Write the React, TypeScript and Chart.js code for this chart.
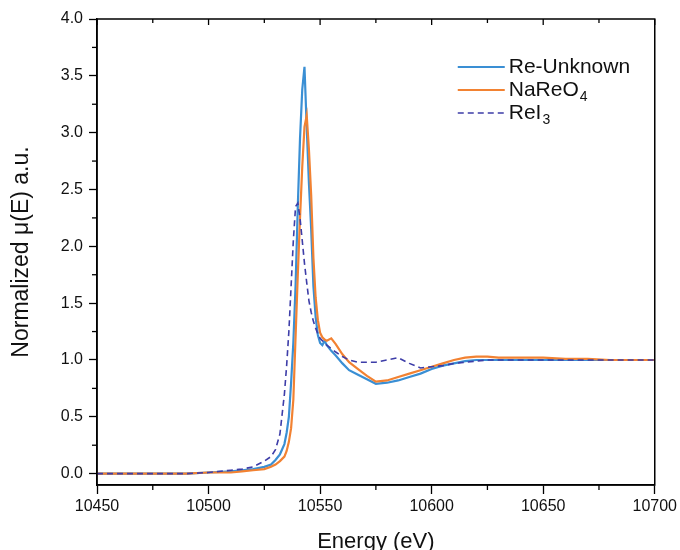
import React, { useEffect, useRef } from "react";
import { Chart, registerables } from "chart.js";

Chart.register(...registerables);

// ---------- data ----------
const energy = [
  10450, 10460, 10470, 10480, 10490,
  10500, 10510, 10515, 10520, 10525,
  10528, 10530, 10532, 10534, 10535,
  10536, 10537, 10538, 10539, 10540,
  10541, 10542, 10543, 10544, 10545,
  10546, 10547, 10548, 10549, 10550,
  10551, 10552, 10553, 10555, 10557,
  10560, 10563, 10567, 10571, 10575,
  10580, 10585, 10590, 10595, 10600,
  10605, 10610, 10615, 10620, 10625,
  10630, 10640, 10650, 10660, 10670,
  10680, 10690, 10700,
];

const reUnknown = [
  0.0, 0.0, 0.0, 0.0, 0.0,
  0.01, 0.02, 0.03, 0.04, 0.06,
  0.08, 0.12, 0.17, 0.26, 0.36,
  0.5, 0.8, 1.15, 1.65, 2.35,
  2.95, 3.38, 3.58, 3.05, 2.55,
  2.15, 1.65, 1.38, 1.22, 1.15,
  1.13, 1.17, 1.13, 1.08, 1.04,
  0.97, 0.91, 0.87, 0.83, 0.79,
  0.8, 0.82, 0.85, 0.88, 0.92,
  0.95, 0.97, 0.99, 1.0, 1.0,
  1.0, 1.0, 1.0, 1.0, 1.0,
  1.0, 1.0, 1.0,
];

const naReO4 = [
  0.0, 0.0, 0.0, 0.0, 0.0,
  0.01, 0.01, 0.02, 0.03, 0.04,
  0.06, 0.08, 0.11, 0.15, 0.2,
  0.28, 0.4, 0.65, 1.2, 1.75,
  2.25, 2.7, 3.05, 3.15, 2.85,
  2.45, 1.9, 1.55, 1.35, 1.24,
  1.2, 1.18, 1.17, 1.19, 1.14,
  1.05, 0.98, 0.92, 0.86, 0.81,
  0.82, 0.85, 0.88, 0.91, 0.94,
  0.97, 1.0, 1.02, 1.03, 1.03,
  1.02, 1.02, 1.02, 1.01, 1.01,
  1.0, 1.0, 1.0,
];

const reI3 = [
  0.0, 0.0, 0.0, 0.0, 0.0,
  0.01, 0.03, 0.04, 0.06, 0.11,
  0.15, 0.21, 0.35, 0.7, 0.95,
  1.25, 1.65, 2.05, 2.35, 2.38,
  2.25, 2.05, 1.85, 1.68, 1.52,
  1.42, 1.34, 1.28, 1.23, 1.19,
  1.17, 1.15, 1.13, 1.1, 1.07,
  1.03, 1.0, 0.98, 0.98, 0.98,
  1.0, 1.02, 0.97, 0.93, 0.94,
  0.95, 0.97, 0.98, 0.99, 1.0,
  1.0, 1.0, 1.0, 1.0, 1.0,
  1.0, 1.0, 1.0,
];

const seriesNames = ["Re-Unknown", "NaReO4", "ReI3"];
// legend text: main part + subscript part
const legendMain = ["Re-Unknown", "NaReO", "ReI"];
const legendSub = ["", "4", "3"];

const xTitle = "Energy (eV)";
const yTitle = "Normalized μ(E) a.u.";

const FONT = "'Liberation Sans', Arial, sans-serif";
const COLORS = ["#3A8FD4", "#F28232", "#3D3DA8"];

const framePlugin = {
  id: "frameAndLegend",
  afterDraw(chart: any) {
    const { ctx, chartArea: a, scales } = chart;
    const x = scales.x;
    const y = scales.y;
    const line = (x1: number, y1: number, x2: number, y2: number) => {
      ctx.beginPath();
      ctx.moveTo(x1, y1);
      ctx.lineTo(x2, y2);
      ctx.stroke();
    };
    ctx.save();
    ctx.strokeStyle = "#000";
    ctx.lineWidth = 1.5;
    ctx.strokeRect(a.left, a.top, a.right - a.left, a.bottom - a.top);

    ctx.lineWidth = 1.3;
    const xt = x.ticks.map((t: any) => t.value);
    for (let i = 0; i < xt.length; i++) {
      const px = x.getPixelForValue(xt[i]);
      line(px, a.top, px, a.top + 6);
      if (i < xt.length - 1) {
        const pm = x.getPixelForValue((xt[i] + xt[i + 1]) / 2);
        line(pm, a.bottom, pm, a.bottom + 5);
        line(pm, a.top, pm, a.top + 4);
      }
    }
    const yt = y.ticks.map((t: any) => t.value);
    for (let i = 0; i < yt.length - 1; i++) {
      const pm = y.getPixelForValue((yt[i] + yt[i + 1]) / 2);
      line(a.left - 5, pm, a.left, pm);
    }

    // legend
    const lx0 = a.right - 197;
    const lx1 = a.right - 150;
    const tx = a.right - 146;
    const rows = [a.top + 48, a.top + 71, a.top + 94];
    chart.data.datasets.forEach((ds: any, i: number) => {
      const ry = rows[i];
      ctx.strokeStyle = ds.borderColor;
      ctx.lineWidth = ds.borderWidth;
      ctx.setLineDash(ds.borderDash || []);
      line(lx0, ry, lx1, ry);
      ctx.setLineDash([]);
      ctx.fillStyle = "#111";
      ctx.textBaseline = "middle";
      ctx.textAlign = "left";
      ctx.font = `21px ${FONT}`;
      ctx.fillText(legendMain[i], tx, ry);
      const w = ctx.measureText(legendMain[i]).width;
      if (legendSub[i]) {
        ctx.font = `14px ${FONT}`;
        ctx.fillText(legendSub[i], tx + w + 1, ry + 7);
      }
    });
    ctx.restore();
  },
};

export default function App() {
  const ref = useRef<HTMLCanvasElement | null>(null);

  useEffect(() => {
    if (!ref.current) return;
    const mk = (vals: number[]) => energy.map((e, i) => ({ x: e, y: vals[i] }));
    const chart = new Chart(ref.current, {
      type: "line",
      data: {
        datasets: [
          {
            label: seriesNames[0],
            data: mk(reUnknown),
            borderColor: COLORS[0],
            borderWidth: 2.2,
            pointRadius: 0,
            tension: 0,
            order: 2,
          },
          {
            label: seriesNames[1],
            data: mk(naReO4),
            borderColor: COLORS[1],
            borderWidth: 2.2,
            pointRadius: 0,
            tension: 0,
            order: 1,
          },
          {
            label: seriesNames[2],
            data: mk(reI3),
            borderColor: COLORS[2],
            borderWidth: 1.6,
            borderDash: [6, 4],
            pointRadius: 0,
            tension: 0,
            order: 0,
          },
        ],
      },
      options: {
        animation: false,
        responsive: true,
        maintainAspectRatio: false,
        layout: { padding: { top: 19, right: 25, bottom: 0, left: 0 } },
        plugins: { legend: { display: false }, tooltip: { enabled: false } },
        scales: {
          x: {
            type: "linear",
            min: 10450,
            max: 10700,
            ticks: {
              stepSize: 50,
              padding: 3,
              color: "#111",
              font: { family: FONT, size: 16 },
              callback: (v: any) => String(v),
              maxRotation: 0,
            },
            grid: {
              drawOnChartArea: false,
              tickLength: 9,
              tickColor: "#000",
              tickWidth: 1.3,
            },
            border: { display: true, color: "#000", width: 1.5 },
            title: {
              display: true,
              text: xTitle,
              color: "#111",
              font: { family: FONT, size: 22, lineHeight: 1 },
              padding: { top: 0, bottom: -3 },
            },
            afterFit: (s: any) => {
              s.height = 65;
            },
          },
          y: {
            type: "linear",
            min: -0.1,
            max: 4.0,
            ticks: {
              stepSize: 0.5,
              includeBounds: false,
              padding: 6,
              color: "#111",
              font: { family: FONT, size: 16 },
              callback: (v: any) => Number(v).toFixed(1),
            },
            grid: {
              drawOnChartArea: false,
              tickLength: 8,
              tickColor: "#000",
              tickWidth: 1.3,
            },
            border: { display: true, color: "#000", width: 1.5 },
            title: {
              display: true,
              text: yTitle,
              color: "#111",
              font: { family: FONT, size: 23, lineHeight: 1 },
              padding: { top: 10.5, bottom: 0 },
            },
            afterFit: (s: any) => {
              s.width = 97;
            },
          },
        },
      },
      plugins: [framePlugin],
    } as any);
    return () => chart.destroy();
  }, []);

  return (
    <div style={{ position: "fixed", left: 0, top: 0, width: 680, height: 550, background: "#fff" }}>
      <canvas ref={ref} />
    </div>
  );
}
